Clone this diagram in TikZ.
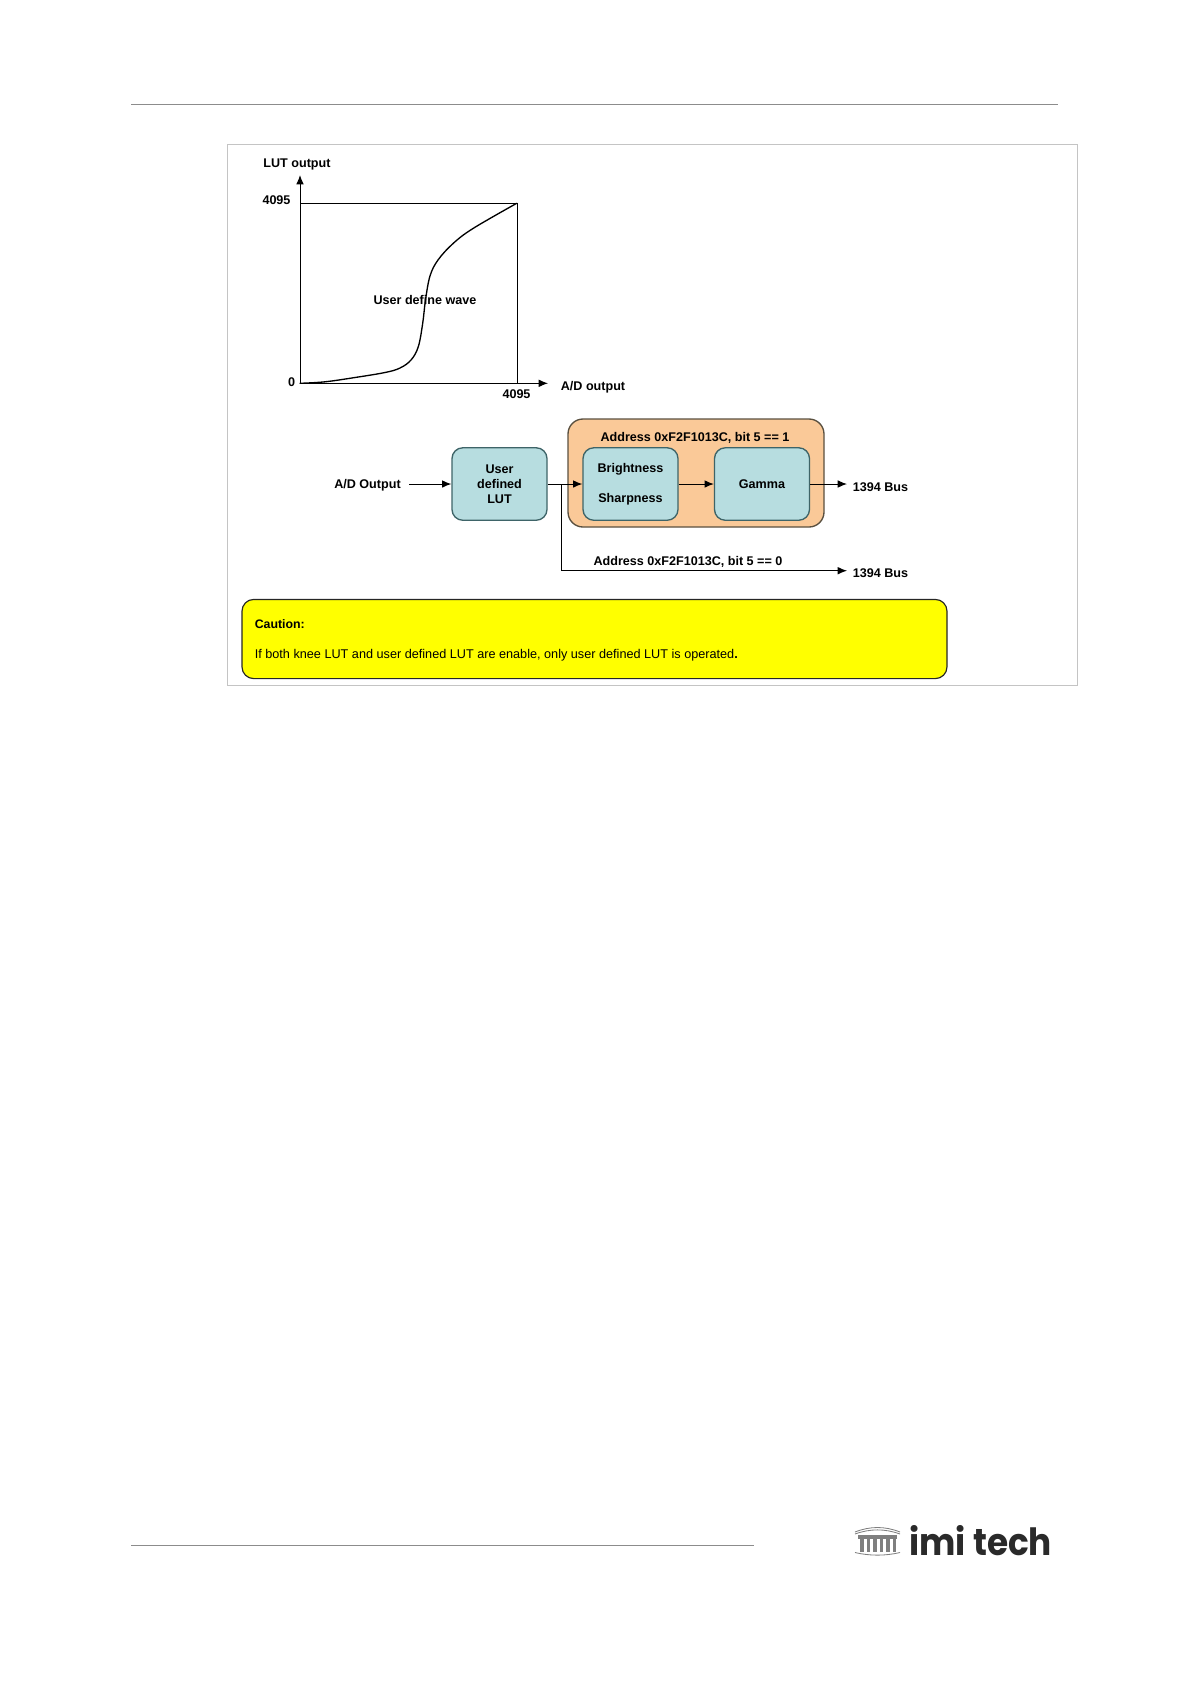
\documentclass[tikz,border=0pt]{standalone}
\usepackage{fontspec}
\setmainfont{Liberation Sans}
\newfontfamily\logofont{Poppins}
\usetikzlibrary{arrows.meta}
\definecolor{tealfill}{HTML}{B7DDE0}
\definecolor{tealline}{HTML}{3E6468}
\definecolor{orangefill}{HTML}{FAC998}
\definecolor{orangeline}{HTML}{5A5040}
\definecolor{framegray}{HTML}{C4C4C4}
\definecolor{rulegray}{HTML}{8C8C8C}
\definecolor{logogray}{HTML}{2A2A2A}
\definecolor{cautionyellow}{RGB}{255,255,0}
\tikzset{
  x=0.6pt,y=-0.6pt,
  lbl/.style={inner sep=0pt,font=\fontsize{7.55pt}{9pt}\selectfont\bfseries,align=center},
  boxnode/.style={draw=tealline,fill=tealfill,line width=0.8pt,rounded corners=6.5pt,minimum width=57pt,minimum height=43.5pt,inner sep=0pt,align=center,font=\fontsize{7.55pt}{9pt}\selectfont\bfseries},
  conn/.style={line width=0.6pt,draw=black,-{Latex[length=5.6pt,width=4.6pt]}},
  plain/.style={line width=0.6pt,draw=black},
  rulel/.style={line width=0.6pt,draw=rulegray}
}
\begin{document}
\begin{tikzpicture}
\useasboundingbox (0,0) rectangle (1191,1684);
% page rules
\coordinate (hl) at (131,104.5); \coordinate (hr) at (1058,104.5);
\draw[rulel] (hl) -- (hr);
\coordinate (fl) at (131,1545); \coordinate (fr) at (754,1545);
\draw[rulel] (fl) -- (fr);
% frame
\draw[draw=framegray,line width=0.6pt] (227,144.5) rectangle (1077,685);
% chart
\coordinate (O) at (300,383.3);
\coordinate (YT) at (300,175);
\coordinate (XT) at (548,383.3);
\coordinate (TL) at (300,203.3);
\coordinate (TR) at (517,203.3);
\coordinate (BR) at (517,383.3);
\draw[plain] (TL) -- (TR) -- (BR);
\draw[conn] (O) -- (YT);
\draw[conn] (O) -- (XT);
\draw[line width=0.8pt,line cap=round] plot[smooth,tension=0.6] coordinates {(300,383.3) (325,381.8) (355,377.5) (385,372.5) (400,368) (411,360) (418.3,346.7) (422.7,323.3) (425.5,300) (430,276) (438,260) (453.3,243.3) (473.3,228.3) (516.7,203.3)};
\node[lbl] (lutout) at (297,164) {LUT output};
\node[lbl] (t4095) at (276.5,200) {4095};
\node[lbl] (zero) at (291.5,382) {0};
\node[lbl] (b4095) at (516.5,394.5) {4095};
\node[lbl] (adout) at (593,387) {A/D output};
\node[lbl] (wave) at (425,300) {User define wave};
% flow
\node[draw=orangeline,fill=orangefill,line width=0.8pt,rounded corners=9pt,minimum width=153.6pt,minimum height=64.8pt,inner sep=0pt] (group) at (696,473) {};
\node[boxnode] (user) at (499.5,484) {User\\defined\\LUT};
\node[boxnode] (bs) at (630.5,484) {\raisebox{-1pt}{Brightness}\\[9pt]\raisebox{-1pt}{Sharpness}};
\node[boxnode] (gamma) at (762,484) {Gamma};
\node[lbl] (addr1) at (695,437.5) {Address 0xF2F1013C, bit 5 == 1};
\node[lbl] (addr0) at (688,561.5) {Address 0xF2F1013C, bit 5 == 0};
\node[lbl] (adin) at (367.5,485) {A/D Output};
\node[lbl] (bus1) at (880.5,487) {1394 Bus};
\node[lbl] (bus2) at (880.5,573) {1394 Bus};
\coordinate (adstart) at (409,484);
\coordinate (branch) at (561.5,484);
\coordinate (g1) at (847,484);
\coordinate (g2) at (847,570.7);
\draw[conn] (adstart) -- (user.west);
\draw[conn] (user.east) -- (bs.west);
\draw[conn] (bs.east) -- (gamma.west);
\draw[conn] (gamma.east) -- (g1);
\draw[conn] (branch) |- (g2);
% caution
\node[draw=black!85,fill=cautionyellow,line width=0.7pt,rounded corners=7pt,minimum width=423pt,minimum height=47.5pt,inner sep=0pt] (caution) at (594.5,639) {};
\node[anchor=west,inner sep=0pt,font=\fontsize{7.4pt}{9pt}\selectfont\bfseries] (cauttitle) at (254.5,624) {Caution:};
\node[anchor=west,inner sep=0pt,font=\fontsize{7.6pt}{9pt}\selectfont] (cauttext) at (254.5,655) {If both knee LUT and user defined LUT are enable, only user defined LUT is operated\textbf{.}};
% logo
\begin{scope}[draw=logogray!60,line width=0.5pt]
  \draw (855,1532) .. controls (870,1526) and (885,1526) .. (900,1532);
  \draw (855,1534) .. controls (870,1528.5) and (885,1528.5) .. (900,1534);
  \draw (855,1552.5) .. controls (870,1556) and (885,1556) .. (900,1552.5);
  \fill[logogray!60] (858,1534.5) rectangle (897,1539);
  \foreach \cx in {860,866.5,873,879.5,886,892.5}{
    \fill[logogray!60] (\cx,1536) rectangle ++(3.8,15.5);
  }
\end{scope}
\node[inner sep=0pt,anchor=base west,text=logogray,xscale=0.915,transform shape,font=\logofont\bfseries\fontsize{22.5pt}{26pt}\selectfont] (logo) at (909,1555) {imi tech};
\end{tikzpicture}
\end{document}
